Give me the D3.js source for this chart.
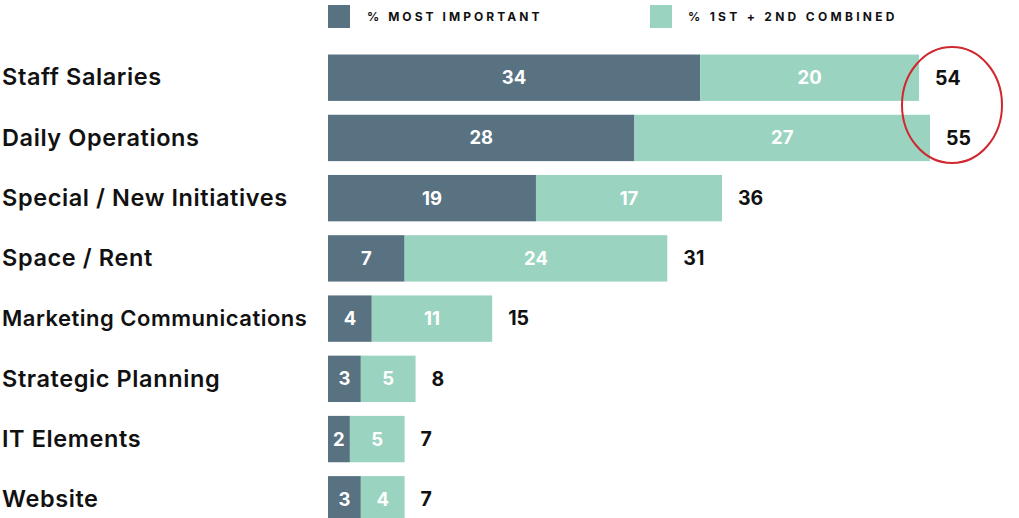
<!DOCTYPE html>
<meta charset="utf-8">
<html>
<head>
<script src="https://d3js.org/d3.v7.min.js"></script>
<style>
  body { margin: 0; background: #fff; }
  text { font-family: Inter, "Noto Sans", sans-serif; }
</style>
</head>
<body>
<svg id="chart" width="1019" height="518"></svg>
<script>
// chart values
var categories = ["Staff Salaries", "Daily Operations", "Special / New Initiatives", "Space / Rent",
                  "Marketing Communications", "Strategic Planning", "IT Elements", "Website"];
var mostImportant = [34, 28, 19, 7, 4, 3, 2, 3];
var secondChoice  = [20, 27, 17, 24, 11, 5, 5, 4];
var totals        = [54, 55, 36, 31, 15, 8, 7, 7];
var seriesNames   = ["% MOST IMPORTANT", "% 1ST + 2ND COMBINED"];
var colors        = ["#587282", "#9ad4c0"];

var svg = d3.select("#chart");

var x = d3.scaleLinear().domain([0, 55]).range([328, 930]);
var y = d3.scaleBand().domain(categories).range([48.5, 528.5]).paddingInner(0.23).paddingOuter(0.1);

var rows = categories.map(function(c, i) {
    return { cat: c, a: mostImportant[i], b: secondChoice[i], t: totals[i] };
});

// legend
var legend = svg.append("g");
[[328, 367, 3.05], [650, 688, 3.3]].forEach(function(p, i) {
    legend.append("rect").attr("x", p[0]).attr("y", 5).attr("width", 22).attr("height", 23).attr("fill", colors[i]);
    legend.append("text").attr("x", p[1]).attr("y", 21)
        .attr("font-size", 12).attr("font-weight", 700).attr("letter-spacing", p[2])
        .attr("fill", "#111").text(seriesNames[i]);
});

var g = svg.append("g");

// category labels (Marketing Communications is set a bit smaller so it fits)
function small(d) { return d.cat === "Marketing Communications"; }
g.selectAll("text.cat").data(rows).enter().append("text")
    .attr("class", "cat")
    .attr("x", 2)
    .attr("y", function(d) { return y(d.cat) + y.bandwidth() / 2 - 0.5; })
    .attr("dy", "0.35em")
    .attr("font-size", function(d) { return small(d) ? 22 : 23.5; })
    .attr("letter-spacing", function(d) { return small(d) ? 0.5 : 0.6; })
    .attr("font-weight", 600)
    .attr("fill", "#111")
    .text(function(d) { return d.cat; });

// first segment
g.selectAll("rect.a").data(rows).enter().append("rect")
    .attr("x", x(0))
    .attr("y", function(d) { return y(d.cat); })
    .attr("width", function(d) { return x(d.a) - x(0); })
    .attr("height", y.bandwidth())
    .attr("fill", colors[0]);

// second segment
g.selectAll("rect.b").data(rows).enter().append("rect")
    .attr("x", function(d) { return x(d.a); })
    .attr("y", function(d) { return y(d.cat); })
    .attr("width", function(d) { return x(d.a + d.b) - x(d.a); })
    .attr("height", y.bandwidth())
    .attr("fill", colors[1]);

function inner(cls, xf, vf) {
    g.selectAll("text." + cls).data(rows).enter().append("text")
        .attr("class", cls)
        .attr("x", xf)
        .attr("y", function(d) { return y(d.cat) + y.bandwidth() / 2; })
        .attr("dy", "0.35em")
        .attr("text-anchor", "middle")
        .attr("font-size", 18.5).attr("font-weight", 700)
        .attr("fill", "#fff")
        .text(vf);
}
inner("la", function(d) { return (x(0) + x(d.a)) / 2; }, function(d) { return d.a; });
inner("lb", function(d) { return (x(d.a) + x(d.a + d.b)) / 2; }, function(d) { return d.b; });

// totals
g.selectAll("text.tot").data(rows).enter().append("text")
    .attr("x", function(d) { return x(d.a + d.b) + 16; })
    .attr("y", function(d) { return y(d.cat) + y.bandwidth() / 2; })
    .attr("dy", "0.35em")
    .attr("font-size", 19.5).attr("font-weight", 700)
    .attr("fill", "#111")
    .text(function(d) { return d.t; });

// highlight ellipse around the two largest totals
svg.append("ellipse")
    .attr("cx", 952).attr("cy", 105).attr("rx", 50).attr("ry", 58)
    .attr("fill", "none").attr("stroke", "#d0282e").attr("stroke-width", 2);
</script>
</body>
</html>
